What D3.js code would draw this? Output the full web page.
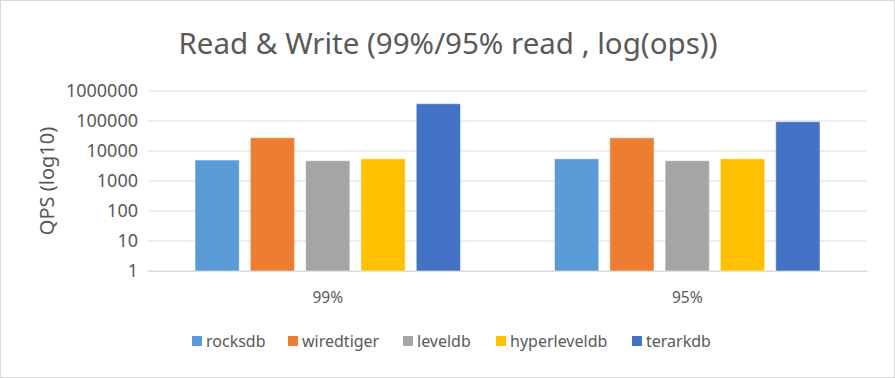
<!DOCTYPE html>
<html>
<head>
<meta charset="utf-8">
<script src="https://cdn.jsdelivr.net/npm/d3@7"></script>
<style>
  body { margin: 0; background: #fff; }
  svg { display: block; font-family: "Noto Sans", sans-serif; }
  .tick text { fill: #595959; }
</style>
</head>
<body>
<svg width="895" height="378"></svg>
<script>
// データ
const categories = ["99%", "95%"];
const seriesNames = ["rocksdb", "wiredtiger", "leveldb", "hyperleveldb", "terarkdb"];
const rocksdb = [5000, 5500];
const wiredtiger = [27800, 27500];
const leveldb = [4750, 4750];
const hyperleveldb = [5500, 5500];
const terarkdb = [377000, 95000];
const yTicks = [1, 10, 100, 1000, 10000, 100000, 1000000];
const colors = ["#5B9BD5", "#ED7D31", "#A5A5A5", "#FFC000", "#4472C4"];

const values = [rocksdb, wiredtiger, leveldb, hyperleveldb, terarkdb];
const data = categories.map((c, i) => ({
    cat: c,
    vals: seriesNames.map((s, j) => ({ name: s, v: values[j][i], color: colors[j] }))
}));

const svg = d3.select("svg");

// 枠
svg.append("rect")
    .attr("x", 0.5).attr("y", 0.5)
    .attr("width", 894).attr("height", 377)
    .attr("fill", "#fff")
    .attr("stroke", "#d9d9d9");

const plot = { left: 148, right: 867, top: 91, bottom: 271 };

const x0 = d3.scaleBand()
    .domain(categories)
    .range([plot.left, plot.right])
    .padding(0);

const x1 = d3.scaleBand()
    .domain(seriesNames)
    .range([0, x0.bandwidth()])
    .paddingInner(0.2)
    .paddingOuter(0.85);

const y = d3.scaleLog()
    .domain([1, 1000000])
    .range([plot.bottom, plot.top]);

// グリッド線
svg.append("g")
    .selectAll("line")
    .data(yTicks)
    .enter().append("line")
    .attr("x1", plot.left)
    .attr("x2", plot.right)
    .attr("y1", d => y(d))
    .attr("y2", d => y(d))
    .attr("stroke", "#d9d9d9")
    .attr("stroke-width", 1);

// y軸
const yAxis = svg.append("g")
    .attr("transform", `translate(${plot.left - 10},0)`)
    .call(d3.axisLeft(y).tickValues(yTicks).tickFormat(d3.format("d")).tickSize(0).tickPadding(0));
yAxis.select(".domain").remove();
yAxis.selectAll("text").attr("font-size", 18).attr("font-family", "Noto Sans");

svg.append("text")
    .attr("transform", `translate(54,${(plot.top + plot.bottom) / 2}) rotate(-90)`)
    .attr("text-anchor", "middle")
    .attr("fill", "#595959")
    .attr("font-size", 20)
    .text("QPS (log10)");

// x軸
const xAxis = svg.append("g")
    .attr("transform", `translate(0,${plot.bottom})`)
    .call(d3.axisBottom(x0).tickSize(0).tickPadding(21));
xAxis.select(".domain").attr("stroke", "#d9d9d9");
xAxis.selectAll("text").attr("font-size", 15.5).attr("font-family", "Noto Sans");

// 棒
svg.append("g")
    .selectAll("g")
    .data(data)
    .enter().append("g")
    .attr("transform", d => `translate(${x0(d.cat)},0)`)
    .selectAll("rect")
    .data(d => d.vals)
    .enter().append("rect")
    .attr("x", d => x1(d.name))
    .attr("y", d => y(d.v))
    .attr("width", x1.bandwidth())
    .attr("height", d => y(1) - y(d.v))
    .attr("fill", d => d.color)
    .attr("stroke", "#fff")
    .attr("stroke-opacity", 0.5)
    .attr("stroke-width", 1);

// タイトル
svg.append("text")
    .attr("x", 448)
    .attr("y", 54)
    .attr("text-anchor", "middle")
    .attr("fill", "#595959")
    .attr("font-size", 29.5)
    .text("Read & Write (99%/95% read , log(ops))");

// 凡例
const legendX = [192, 288, 403, 496, 632];
const legend = svg.append("g")
    .selectAll("g")
    .data(seriesNames)
    .enter().append("g")
    .attr("transform", (d, i) => `translate(${legendX[i]},341)`);
legend.append("rect")
    .attr("x", 0).attr("y", -5)
    .attr("width", 10).attr("height", 10)
    .attr("fill", (d, i) => colors[i]);
legend.append("text")
    .attr("x", 14)
    .attr("y", 0)
    .attr("dy", "0.35em")
    .attr("fill", "#595959")
    .attr("font-size", 16)
    .text(d => d);
</script>
</body>
</html>
